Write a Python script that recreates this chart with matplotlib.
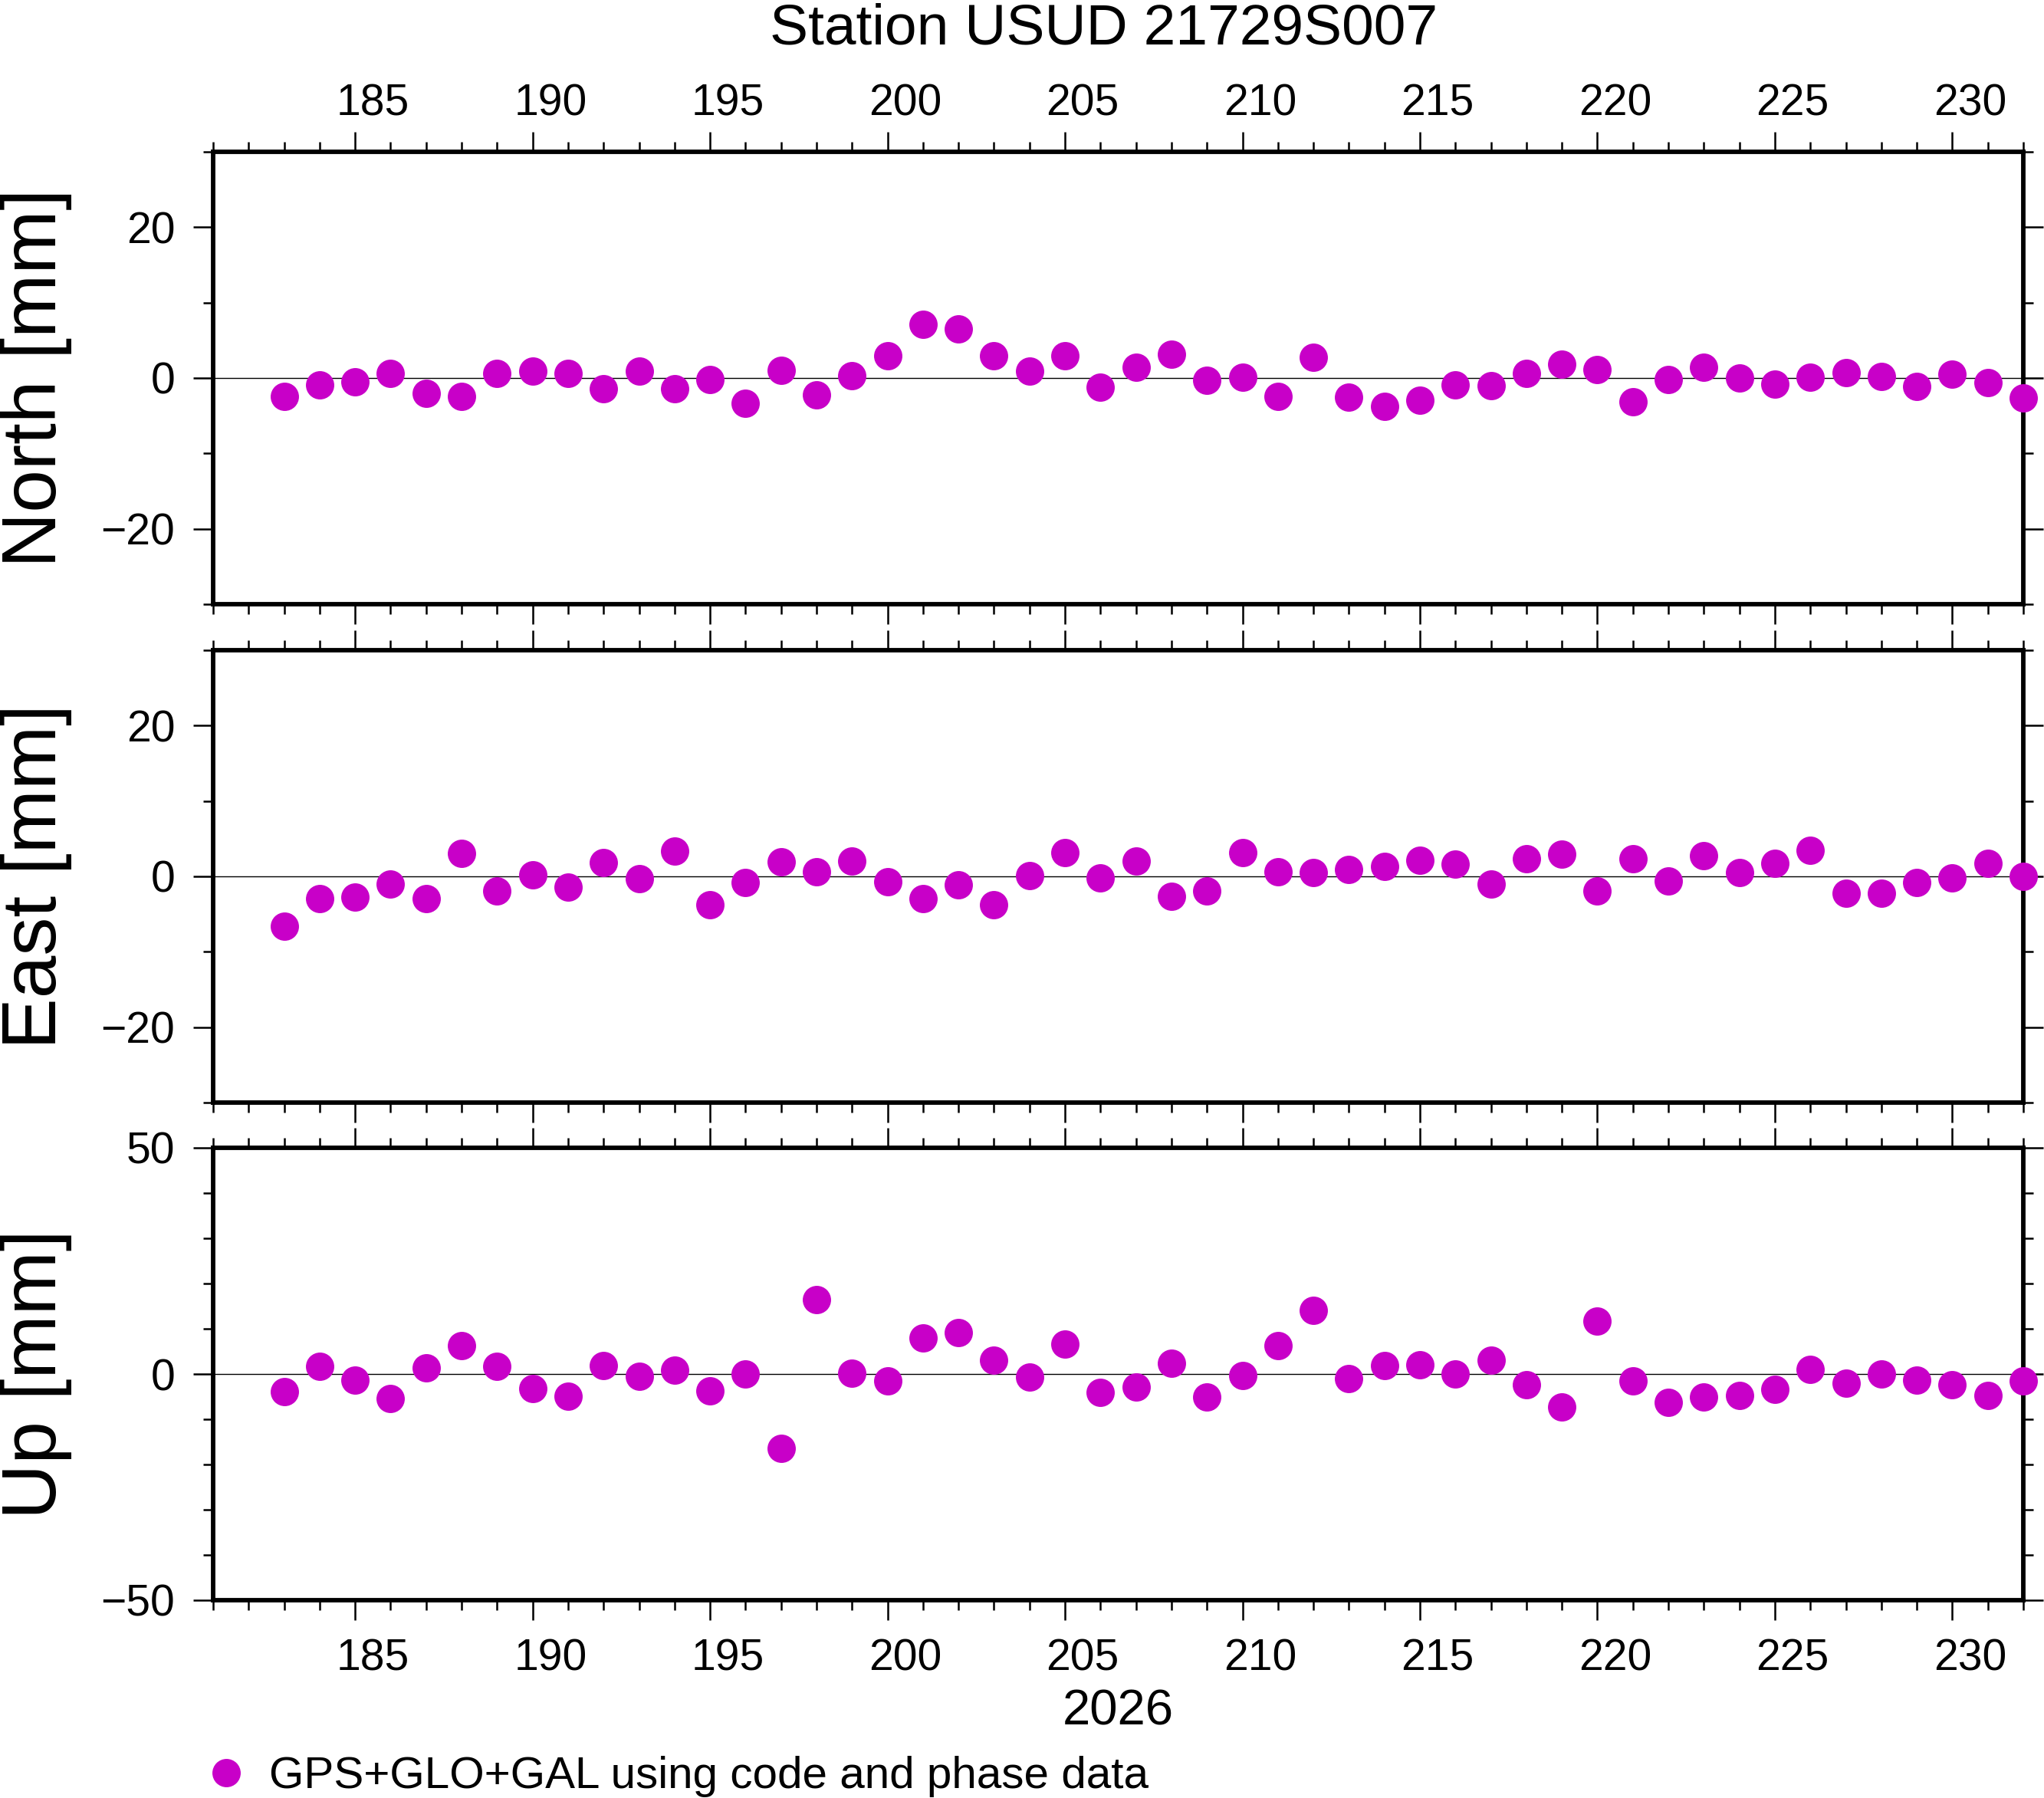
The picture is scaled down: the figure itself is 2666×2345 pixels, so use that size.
import matplotlib
matplotlib.use("Agg")
import matplotlib.pyplot as plt
from matplotlib.ticker import FixedLocator, MultipleLocator
from matplotlib.transforms import ScaledTranslation

plt.rcParams['font.family'] = ['Liberation Sans', 'DejaVu Sans']
plt.rcParams['axes.unicode_minus'] = True

# ---------------- data ----------------
title = "Station USUD 21729S007"
year_label = "2026"
legend_label = "GPS+GLO+GAL using code and phase data"

days = [183, 184, 185, 186, 187, 188, 189, 190, 191, 192,
        193, 194, 195, 196, 197, 198, 199, 200, 201, 202,
        203, 204, 205, 206, 207, 208, 209, 210, 211, 212,
        213, 214, 215, 216, 217, 218, 219, 220, 221, 222,
        223, 224, 225, 226, 227, 228, 229, 230, 231, 232]

north = [-2.4, -0.9, -0.5, 0.6, -2.0, -2.4, 0.6, 0.9, 0.6, -1.4,
         0.9, -1.4, -0.2, -3.4, 1.0, -2.2, 0.3, 3.0, 7.1, 6.5,
         3.0, 0.9, 2.9, -1.2, 1.4, 3.2, -0.3, 0.1, -2.4, 2.7,
         -2.5, -3.8, -2.9, -0.9, -1.0, 0.6, 1.8, 1.1, -3.2, -0.2,
         1.4, 0.0, -0.8, 0.1, 0.7, 0.2, -1.1, 0.5, -0.6, -2.6]

east = [-6.6, -3.0, -2.7, -1.0, -2.9, 3.0, -1.9, 0.2, -1.4, 1.8,
        -0.3, 3.4, -3.8, -0.8, 1.9, 0.6, 2.0, -0.7, -3.0, -1.1,
        -3.8, 0.1, 3.2, -0.2, 2.0, -2.6, -1.9, 3.2, 0.6, 0.5,
        0.9, 1.3, 2.1, 1.6, -1.0, 2.3, 2.9, -1.9, 2.3, -0.6,
        2.7, 0.5, 1.7, 3.5, -2.2, -2.2, -0.8, -0.2, 1.7, 0.0]

up = [-3.9, 1.7, -1.3, -5.4, 1.3, 6.2, 1.7, -3.2, -4.9, 1.9,
      -0.5, 0.8, -3.7, 0.0, -16.4, 16.4, 0.1, -1.5, 7.9, 9.1,
      3.0, -0.7, 6.6, -4.1, -2.9, 2.4, -5.0, -0.3, 6.2, 14.0,
      -1.0, 1.9, 2.0, 0.0, 3.0, -2.4, -7.3, 11.7, -1.5, -6.3,
      -5.0, -4.8, -3.4, 1.0, -2.0, 0.0, -1.3, -2.4, -4.8, -1.5]

x_major_ticks = [185, 190, 195, 200, 205, 210, 215, 220, 225, 230]
x_range = (181, 232)

panel_names = ["North [mm]", "East [mm]", "Up [mm]"]
panel_values = [north, east, up]
panel_ylims = [(-30, 30), (-30, 30), (-50, 50)]
panel_yticks = [[-20, 0, 20], [-20, 0, 20], [-50, 0, 50]]

# ---------------- style / layout ----------------
MAG = "#C800C8"
W, H = 2666, 2345
DPI = 100
fig = plt.figure(figsize=(W / DPI, H / DPI), dpi=DPI)

AX_L, AX_R = 278, 2639
panel_px = [(198, 788), (848, 1438), (1497, 2087)]

TICK_FS = 41
half_day_in = (AX_R - AX_L) / (x_range[1] - x_range[0]) / 2 / DPI

axes = []
for i, (name, vals, ylim, yt, (top, bot)) in enumerate(
        zip(panel_names, panel_values, panel_ylims, panel_yticks, panel_px)):
    ax = fig.add_axes([AX_L / W, 1 - bot / H, (AX_R - AX_L) / W, (bot - top) / H])
    axes.append(ax)
    ax.axhline(0, color="black", lw=1.0, zorder=1)
    line, = ax.plot(days, vals, linestyle="none", marker="o", ms=26.6,
                    color=MAG, mec="none", clip_on=False, zorder=3,
                    label=legend_label)
    ax.set_xlim(*x_range)
    ax.set_ylim(*ylim)
    ax.xaxis.set_major_locator(FixedLocator(x_major_ticks))
    ax.xaxis.set_minor_locator(MultipleLocator(1))
    ax.yaxis.set_major_locator(FixedLocator(yt))
    ax.yaxis.set_minor_locator(MultipleLocator(10))
    for s in ax.spines.values():
        s.set_linewidth(4.2)
    ax.tick_params(which="both", direction="out", top=True, right=True,
                   width=1.8, labelsize=TICK_FS, pad=17, color="black")
    ax.tick_params(which="major", length=18.7)
    ax.tick_params(which="minor", length=9.4)
    ax.tick_params(axis="x", which="major", labeltop=(i == 0), labelbottom=(i == 2))
    ax.set_ylabel(name, fontsize=72, va="baseline")
    ax.yaxis.set_label_coords((73.5 - AX_L) / (AX_R - AX_L), 0.5)

    # GMT style: day annotations centred within the day interval
    ticks = ax.xaxis.get_major_ticks()
    for t in ticks:
        t.label1.set_transform(t.label1.get_transform() +
                               ScaledTranslation(half_day_in, 0, fig.dpi_scale_trans))
        t.label2.set_transform(t.label2.get_transform() +
                               ScaledTranslation(half_day_in, -0.144, fig.dpi_scale_trans))

axes[2].set_xlabel(year_label, fontsize=47, va="baseline")
axes[2].xaxis.set_label_coords(0.5, (2087 - 2250) / (2087 - 1497))

fig.text(1440 / W, 1 - 58 / H, title, ha="center", va="baseline", fontsize=54)

fig.legend(handles=[line], labels=[legend_label], loc="center left",
           bbox_to_anchor=(265.5 / W, 1 - 2317 / H), frameon=False,
           fontsize=42, handlelength=1.0, handletextpad=0.46,
           borderpad=0, borderaxespad=0, numpoints=1)

fig.savefig("out.png", dpi=DPI)
